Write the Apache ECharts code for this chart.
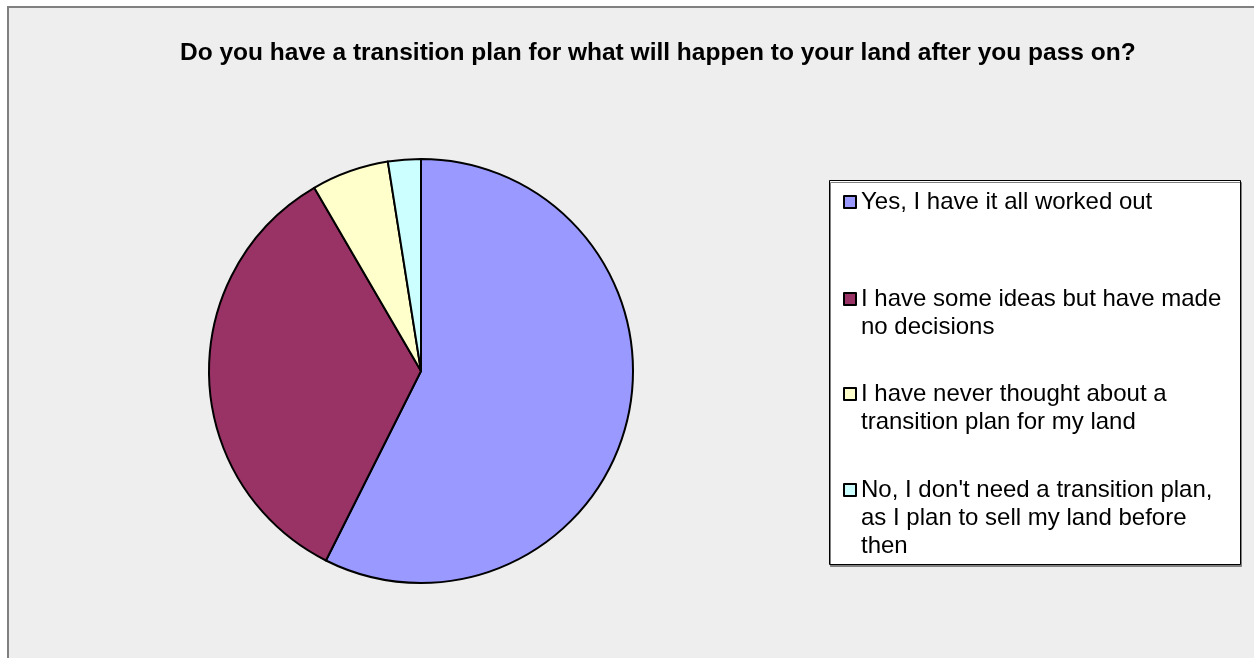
<!DOCTYPE html>
<html>
<head>
<meta charset="UTF-8">
<title>Transition plan</title>
<style>
    html, body { margin: 0; padding: 0; background: #fff; }
    #chartArea { width: 1254px; height: 658px; }
</style>
</head>
<body>
<div id="chartArea"></div>
<script src="https://cdn.jsdelivr.net/npm/echarts@6/dist/echarts.min.js"></script>
<script>
var titleText = 'Do you have a transition plan for what will happen to your land after you pass on?';
var categories = [
    'Yes, I have it all worked out',
    'I have some ideas but have made no decisions',
    'I have never thought about a transition plan for my land',
    "No, I don't need a transition plan, as I plan to sell my land before then"
];
var shares = [57.4, 34.2, 5.9, 2.5];
var colors = ['#9999FF', '#993366', '#FFFFCC', '#CCFFFF'];

var FONT = '"Liberation Sans", Arial, sans-serif';
var LH = 28;
// legend row centres (first text line) and number of wrapped lines
var legendRows = [
    { y: 201, lines: 1 },
    { y: 298, lines: 2 },
    { y: 393, lines: 2 },
    { y: 489, lines: 3 }
];

var myChart = echarts.init(document.getElementById('chartArea'));

var legends = categories.map(function (name, i) {
    var row = legendRows[i];
    var pad = row.lines - 1;
    // blank lines above so the icon sits level with the first line
    var blank = new Array(pad + 1).join('\n');
    var boxH = (row.lines + pad) * LH;
    return {
        data: [name],
        orient: 'vertical',
        left: 843,
        top: row.y - boxH / 2 + 1,
        padding: 0,
        itemWidth: 12,
        itemHeight: 12,
        icon: 'rect',
        selectedMode: false,
        formatter: function (n) { return blank + n; },
        textStyle: {
            fontFamily: FONT,
            fontSize: 24,
            color: '#000',
            lineHeight: LH,
            width: 368,
            overflow: 'break'
        }
    };
});

myChart.setOption({
    backgroundColor: '#fff',
    animation: false,
    color: colors,
    graphic: [{
        type: 'rect',
        z: -10,
        shape: { x: 8, y: 7, width: 1300, height: 700 },
        style: { fill: '#EEEEEE', stroke: '#808080', lineWidth: 2 }
    }, {
        type: 'rect',
        z: -5,
        shape: { x: 829.5, y: 180.5, width: 411, height: 384 },
        style: {
            fill: '#fff', stroke: '#000', lineWidth: 1,
            shadowColor: '#808080', shadowOffsetX: 1, shadowOffsetY: 2, shadowBlur: 0
        }
    }],
    title: {
        text: titleText,
        left: 180,
        top: 41,
        padding: 0,
        textStyle: {
            fontFamily: FONT,
            fontSize: 24.5,
            fontWeight: 'bold',
            color: '#000'
        }
    },
    legend: legends,
    series: [{
        type: 'pie',
        center: [421, 371],
        radius: 212,
        startAngle: 90,
        clockwise: true,
        label: { show: false },
        labelLine: { show: false },
        silent: true,
        itemStyle: { borderColor: '#000', borderWidth: 2 },
        data: categories.map(function (name, i) {
            return { name: name, value: shares[i] };
        })
    }]
});
</script>
</body>
</html>
